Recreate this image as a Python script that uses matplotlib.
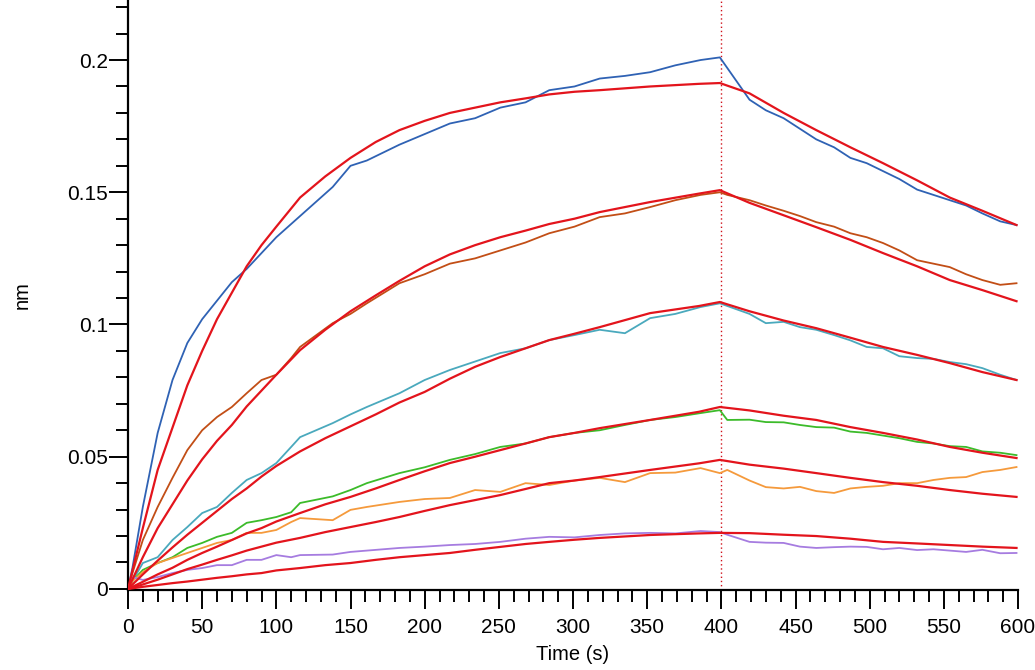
import matplotlib
matplotlib.use("Agg")
import matplotlib.pyplot as plt
from matplotlib.ticker import MultipleLocator

# -- data -------------------------------------------------------------------
t_data = [0, 3, 10, 20, 30, 40, 50, 60, 70, 80, 90, 100, 110, 116, 138, 150,
          161, 183, 200, 217, 234, 251, 268, 284, 301, 318, 335, 352, 369,
          386, 399, 404, 419, 430, 442, 453, 464, 476, 487, 498, 509, 520,
          532, 543, 554, 565, 576, 588, 599]

blue = [0, 0.008, 0.031, 0.059, 0.079, 0.093, 0.102, 0.109, 0.116, 0.121,
        0.127, 0.133, 0.138, 0.141, 0.152, 0.160, 0.162, 0.168, 0.172, 0.176,
        0.178, 0.182, 0.184, 0.1886, 0.190, 0.193, 0.194, 0.1954, 0.198, 0.200,
        0.201, 0.197, 0.185, 0.181, 0.178, 0.174, 0.170, 0.167, 0.163, 0.161,
        0.158, 0.155, 0.151, 0.149, 0.147, 0.145, 0.142, 0.139, 0.1376]
brown = [0, 0.006, 0.0185, 0.031, 0.042, 0.0525, 0.060, 0.065, 0.0688, 0.074,
         0.079, 0.081, 0.0873, 0.0915, 0.1005, 0.104, 0.108, 0.1156, 0.119, 0.123,
         0.125, 0.128, 0.131, 0.1345, 0.137, 0.1406, 0.142, 0.1444, 0.147, 0.149,
         0.150, 0.149, 0.147, 0.145, 0.143, 0.141, 0.1387, 0.137, 0.1345, 0.133,
         0.1308, 0.128, 0.1243, 0.123, 0.1217, 0.119, 0.1168, 0.115, 0.1156]
cyan = [0, 0.003, 0.0098, 0.012, 0.0185, 0.0234, 0.0287, 0.031, 0.0363, 0.0412,
        0.0438, 0.0476, 0.0537, 0.0574, 0.0627, 0.066, 0.0688, 0.074, 0.079, 0.0828,
        0.086, 0.0892, 0.091, 0.0941, 0.096, 0.098, 0.0967, 0.1024, 0.104, 0.1066,
        0.108, 0.107, 0.104, 0.1005, 0.101, 0.099, 0.098, 0.096, 0.094, 0.0915,
        0.091, 0.088, 0.0873, 0.087, 0.0858, 0.085, 0.0835, 0.081, 0.079]
green = [0, 0.003, 0.0072, 0.0098, 0.012, 0.0155, 0.0174, 0.0197, 0.0212, 0.025,
         0.026, 0.0272, 0.029, 0.0325, 0.035, 0.0374, 0.040, 0.0438, 0.046, 0.0488,
         0.051, 0.0537, 0.055, 0.0574, 0.059, 0.060, 0.062, 0.0639, 0.065, 0.0665,
         0.0676, 0.0639, 0.064, 0.0631, 0.063, 0.062, 0.0612, 0.061, 0.0595, 0.059,
         0.058, 0.057, 0.0556, 0.055, 0.054, 0.0537, 0.052, 0.0515, 0.0506]
orange = [0, 0.003, 0.0064, 0.0098, 0.0117, 0.0136, 0.0155, 0.0174, 0.0185, 0.0212,
          0.0212, 0.0223, 0.0253, 0.0268, 0.026, 0.0299, 0.031, 0.0329, 0.034, 0.0344,
          0.0374, 0.0367, 0.040, 0.0393, 0.041, 0.042, 0.0404, 0.0438, 0.044, 0.0457,
          0.0438, 0.045, 0.041, 0.0385, 0.038, 0.0386, 0.037, 0.0363, 0.038, 0.0386,
          0.039, 0.040, 0.040, 0.0412, 0.042, 0.0423, 0.0442, 0.045, 0.0461]
purple = [0, 0.0045, 0.0034, 0.0045, 0.006, 0.0072, 0.0079, 0.009, 0.009, 0.011,
          0.011, 0.0128, 0.012, 0.0128, 0.013, 0.014, 0.0145, 0.0155, 0.016, 0.0166,
          0.017, 0.0178, 0.019, 0.0197, 0.0195, 0.0204, 0.021, 0.0212, 0.021, 0.0219,
          0.0215, 0.0205, 0.0178, 0.0175, 0.0174, 0.016, 0.0155, 0.0158, 0.016, 0.0159,
          0.015, 0.0155, 0.0147, 0.015, 0.0145, 0.014, 0.0148, 0.0135, 0.0136]

t_fit = [0, 10, 20, 30, 40, 50, 60, 70, 80, 90, 100, 116, 133, 150, 167, 183,
         200, 217, 234, 251, 268, 284, 301, 318, 352, 385, 399, 419, 442, 464,
         487, 509, 532, 554, 576, 599]

fit_blue = [0, 0.023, 0.045, 0.061, 0.077, 0.090, 0.102, 0.112, 0.122, 0.130,
            0.137, 0.148, 0.156, 0.163, 0.169, 0.1735, 0.177, 0.180, 0.182, 0.184,
            0.1855, 0.187, 0.188, 0.1886, 0.190, 0.191, 0.1913, 0.1874, 0.180,
            0.1735, 0.167, 0.161, 0.1545, 0.148, 0.143, 0.1376]
fit_brown = [0, 0.012, 0.023, 0.032, 0.041, 0.049, 0.056, 0.062, 0.069, 0.075,
             0.081, 0.0903, 0.098, 0.105, 0.111, 0.1165, 0.122, 0.1265, 0.130, 0.133,
             0.1355, 0.138, 0.140, 0.1425, 0.1463, 0.1495, 0.1508, 0.146, 0.1413,
             0.1368, 0.132, 0.127, 0.122, 0.1168, 0.113, 0.1088]
fit_cyan = [0, 0.0055, 0.0107, 0.0157, 0.0205, 0.025, 0.0295, 0.034, 0.038, 0.0425,
            0.0465, 0.052, 0.057, 0.0615, 0.066, 0.0705, 0.0745, 0.0795, 0.084, 0.0877,
            0.091, 0.0941, 0.0965, 0.099, 0.1043, 0.107, 0.1085, 0.105, 0.1015,
            0.0986, 0.095, 0.0915, 0.0885, 0.0854, 0.082, 0.079]
fit_green = [0, 0.0027, 0.0055, 0.008, 0.011, 0.0136, 0.016, 0.0185, 0.021, 0.023,
             0.0255, 0.0287, 0.032, 0.0348, 0.038, 0.0412, 0.0445, 0.0476, 0.050, 0.0525,
             0.055, 0.0574, 0.059, 0.0608, 0.0639, 0.067, 0.0688, 0.0675, 0.0655,
             0.0639, 0.0612, 0.059, 0.0565, 0.0537, 0.0515, 0.0495]
fit_orange = [0, 0.0017, 0.0035, 0.0055, 0.0075, 0.0092, 0.011, 0.0127, 0.0145, 0.016,
              0.0175, 0.0193, 0.0215, 0.0234, 0.0253, 0.0272, 0.0295, 0.0317, 0.0336,
              0.0355, 0.0378, 0.040, 0.041, 0.0423, 0.045, 0.0475, 0.0488, 0.047,
              0.0455, 0.0438, 0.042, 0.0404, 0.039, 0.0374, 0.036, 0.0348]
fit_purple = [0, 0.0008, 0.0015, 0.0022, 0.0028, 0.0035, 0.0042, 0.0048, 0.0055, 0.006,
              0.007, 0.0079, 0.009, 0.0098, 0.011, 0.012, 0.0128, 0.0136, 0.0148,
              0.0159, 0.017, 0.0178, 0.0186, 0.0193, 0.0204, 0.021, 0.0212, 0.0211,
              0.0205, 0.020, 0.019, 0.0178, 0.0172, 0.0166, 0.016, 0.0155]

switch_time = 400

plt.rcParams["font.family"] = ["Liberation Sans", "DejaVu Sans"]

fig = plt.figure(figsize=(10.35, 6.7), dpi=100)
ax = fig.add_axes([128 / 1035, 1 - 590 / 670, 890 / 1035, 590 / 670])

traces = [(blue, "#2f62b4"), (brown, "#c24e16"), (cyan, "#4aa9bd"),
          (green, "#3cbb2a"), (orange, "#f59a3c"), (purple, "#a67ce0")]
for y, c in traces:
    ax.plot(t_data, y, color=c, lw=1.3, zorder=2)

for y in [fit_blue, fit_brown, fit_cyan, fit_green, fit_orange, fit_purple]:
    ax.plot(t_fit, y, color="#e3141c", lw=1.6, zorder=3)

ax.axvline(switch_time, color="#d0101a", lw=1.0, ls=(0, (1, 2)), zorder=1)

ax.set_xlim(0, 600)
ax.set_ylim(-0.0004, 0.2227)
ax.xaxis.set_major_locator(MultipleLocator(50))
ax.xaxis.set_minor_locator(MultipleLocator(10))
ax.yaxis.set_major_locator(MultipleLocator(0.05))
ax.yaxis.set_minor_locator(MultipleLocator(0.01))
ax.yaxis.set_major_formatter(plt.FuncFormatter(lambda v, p: f"{v:g}"))

for s in ["top", "right"]:
    ax.spines[s].set_visible(False)
for s in ["left", "bottom"]:
    ax.spines[s].set_linewidth(1.6)

ax.tick_params(which="major", length=14, width=1.4, labelsize=15)
ax.tick_params(which="minor", length=8.5, width=1.4)
ax.tick_params(axis="y", which="major", pad=0.5)
ax.tick_params(axis="x", which="major", pad=6)

ax.set_xlabel("Time (s)", fontsize=14.5, labelpad=6)
ax.set_ylabel("nm", fontsize=14.5)
ax.yaxis.set_label_coords(-0.108, 0.5)

fig.savefig("out.png", dpi=100)
